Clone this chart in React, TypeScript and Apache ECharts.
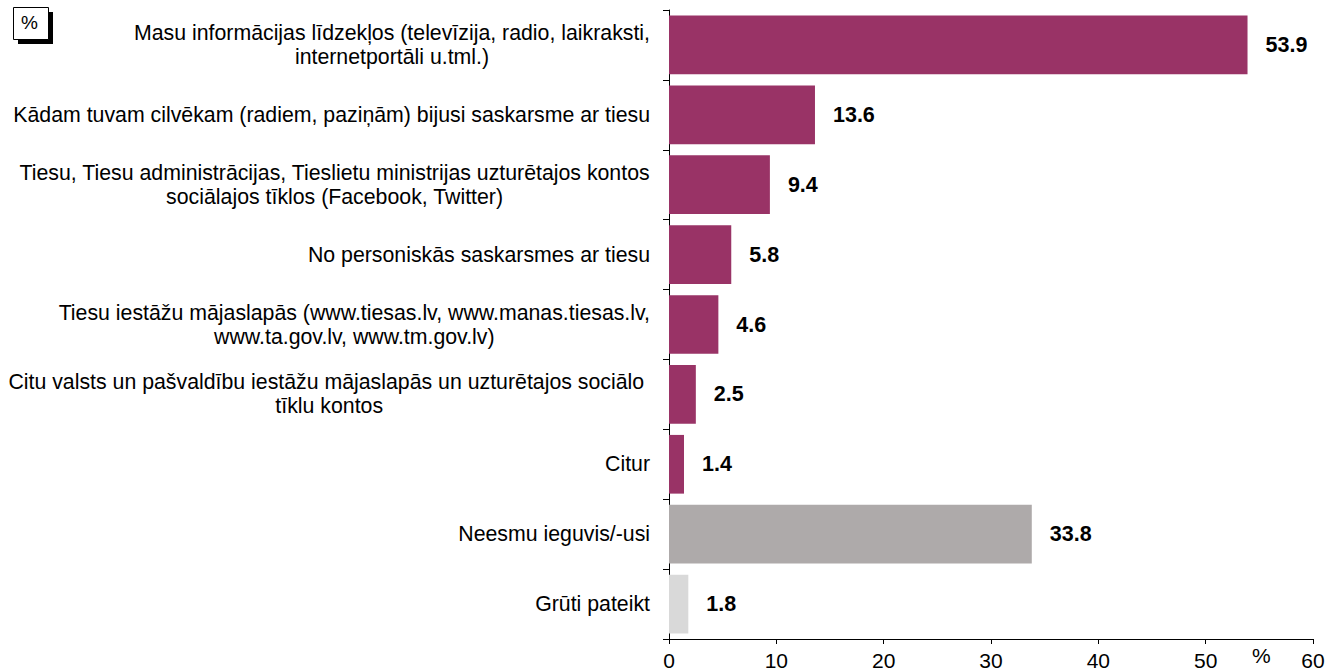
import React, { useEffect, useRef } from "react";
import * as echarts from "echarts";

const categories: string[] = [
  "Masu informācijas līdzekļos (televīzija, radio, laikraksti,\ninternetportāli u.tml.)",
  "Kādam tuvam cilvēkam (radiem, paziņām) bijusi saskarsme ar tiesu",
  "Tiesu, Tiesu administrācijas, Tieslietu ministrijas uzturētajos kontos\nsociālajos tīklos (Facebook, Twitter)",
  "No personiskās saskarsmes ar tiesu",
  "Tiesu iestāžu mājaslapās (www.tiesas.lv, www.manas.tiesas.lv,\nwww.ta.gov.lv, www.tm.gov.lv)",
  "Citu valsts un pašvaldību iestāžu mājaslapās un uzturētajos sociālo \ntīklu kontos",
  "Citur",
  "Neesmu ieguvis/-usi",
  "Grūti pateikt",
];
const values: number[] = [53.9, 13.6, 9.4, 5.8, 4.6, 2.5, 1.4, 33.8, 1.8];
const barColors: string[] = [
  "#993366", "#993366", "#993366", "#993366", "#993366", "#993366", "#993366",
  "#AEAAAA", "#D9D9D9",
];
const xTicks = { min: 0, max: 60, interval: 10 };
const unitLabel = "%";

const FONT = "'Liberation Sans', Arial, sans-serif";

export default function App() {
  const ref = useRef<HTMLDivElement>(null);
  useEffect(() => {
    document.body.style.margin = "0";
    if (!ref.current) return;
    const chart = echarts.init(ref.current, undefined, { renderer: "svg" });
    chart.setOption({
      animation: false,
      backgroundColor: "#ffffff",
      grid: { left: 669, right: 27, top: 10, bottom: 32, containLabel: false },
      xAxis: {
        type: "value",
        min: xTicks.min,
        max: xTicks.max,
        interval: xTicks.interval,
        name: unitLabel,
        nameLocation: "end",
        nameGap: -61,
        nameTextStyle: {
          color: "#000",
          fontSize: 21,
          fontFamily: FONT,
          verticalAlign: "top",
          padding: [6, 0, 0, 0],
        },
        axisLine: { show: true, lineStyle: { color: "#000", width: 1 } },
        axisTick: { show: true, length: 5, lineStyle: { color: "#000" } },
        axisLabel: { color: "#000", fontSize: 21, fontFamily: FONT, margin: 11 },
        splitLine: { show: false },
      },
      yAxis: {
        type: "category",
        inverse: true,
        data: categories,
        axisLine: { show: true, lineStyle: { color: "#000", width: 1 } },
        axisTick: { show: true, length: 6, lineStyle: { color: "#000" } },
        axisLabel: {
          color: "#000",
          fontSize: 21.3,
          fontFamily: FONT,
          margin: 19,
          align: "right",
          formatter: (v: string) =>
            v.split("\n").map((l) => `{c|${l}}`).join("\n"),
          rich: {
            c: {
              align: "center",
              fontSize: 21.3,
              lineHeight: 24,
              fontFamily: FONT,
              color: "#000",
            },
          },
        },
      },
      series: [
        {
          type: "bar",
          data: values.map((v, i) => ({ value: v, itemStyle: { color: barColors[i] } })),
          barCategoryGap: "16%",
          label: {
            show: true,
            position: "right",
            distance: 18,
            color: "#000",
            fontSize: 21.5,
            fontWeight: "bold",
            fontFamily: FONT,
            formatter: (p: any) => p.value.toFixed(1),
          },
        },
      ],
      graphic: [
        {
          type: "rect",
          left: 18,
          top: 12,
          shape: { width: 35, height: 32 },
          style: { fill: "#000" },
        },
        {
          type: "rect",
          left: 13,
          top: 7,
          shape: { width: 35, height: 32 },
          style: { fill: "#fff", stroke: "#000", lineWidth: 1 },
        },
        {
          type: "text",
          left: 21,
          top: 13,
          style: { text: "%", fontSize: 19, fontFamily: FONT, fill: "#000" },
        },
      ],
    });
    return () => chart.dispose();
  }, []);
  return <div ref={ref} style={{ width: 1340, height: 671 }} />;
}
